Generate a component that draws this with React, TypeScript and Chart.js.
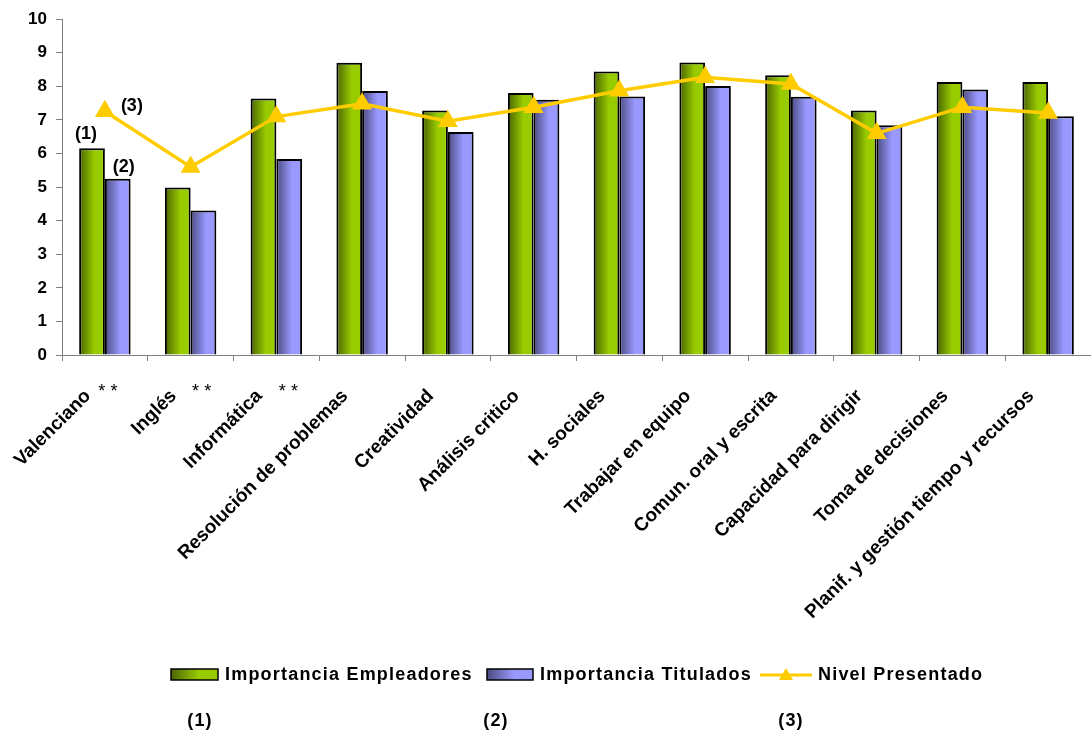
import React, { useEffect, useRef } from "react";
import { Chart, registerables } from "chart.js";

Chart.register(...registerables);

const categories = [
  "Valenciano",
  "Inglés",
  "Informática",
  "Resolución de problemas",
  "Creatividad",
  "Análisis critico",
  "H. sociales",
  "Trabajar en equipo",
  "Comun. oral y escrita",
  "Capacidad para dirigir",
  "Toma de decisiones",
  "Planif. y gestión tiempo y recursos",
];
// significance marks shown next to the first three categories
const significance = ["* *", "* *", "* *"];

const importanciaEmpleadores = [6.16, 4.99, 7.64, 8.7, 7.28, 7.8, 8.44, 8.71, 8.33, 7.28, 8.13, 8.13];
const importanciaTitulados = [5.25, 4.3, 5.84, 7.86, 6.64, 7.6, 7.7, 8.01, 7.69, 6.84, 7.91, 7.11];
const nivelPresentado = [7.26, 5.6, 7.1, 7.48, 6.96, 7.38, 7.87, 8.27, 8.07, 6.6, 7.38, 7.21];

const seriesNames = ["Importancia Empleadores", "Importancia Titulados", "Nivel Presentado"];
const yTicks = [0, 1, 2, 3, 4, 5, 6, 7, 8, 9, 10];
const noteLabels = ["(1)", "(2)", "(3)"];

const FONT = '"Liberation Sans", Arial, sans-serif';
const GREEN_DARK = "#4a6400";
const GREEN_LIGHT = "#99cc00";
const BLUE_DARK = "#4b4b82";
const BLUE_LIGHT = "#9999ff";
const GOLD = "#ffcc00";
const CAT_PCT = 0.6;

function gradientFor(ctx: any, dark: string, light: string, side: number) {
  const chart = ctx.chart;
  const area = chart.chartArea;
  const xs = chart.scales && chart.scales.x;
  if (!area || !xs || ctx.type !== "data") return light;
  const cx = xs.getPixelForValue(ctx.dataIndex);
  const cat = (area.right - area.left) / categories.length;
  const w = (cat * CAT_PCT) / 2;
  const x0 = side === 0 ? cx - w : cx;
  const g = chart.ctx.createLinearGradient(x0, 0, x0 + w, 0);
  g.addColorStop(0, dark);
  g.addColorStop(0.6, light);
  g.addColorStop(1, light);
  return g;
}

function boxGradient(c: CanvasRenderingContext2D, x: number, w: number, dark: string, light: string) {
  const g = c.createLinearGradient(x, 0, x + w, 0);
  g.addColorStop(0, dark);
  g.addColorStop(0.6, light);
  g.addColorStop(1, light);
  return g;
}

const starOffsets = [3, 11, 12];

const annotationsPlugin = {
  id: "annotations",
  afterDatasetsDraw(chart: any) {
    const c: CanvasRenderingContext2D = chart.ctx;
    const b0 = chart.getDatasetMeta(0).data[0];
    const b1 = chart.getDatasetMeta(1).data[0];
    const p0 = chart.getDatasetMeta(2).data[0];
    c.save();
    c.font = `bold 18px ${FONT}`;
    c.fillStyle = "#000";
    c.textAlign = "center";
    c.textBaseline = "middle";
    if (b0) c.fillText(noteLabels[0], b0.x - 6, b0.y - 14);
    if (b1) c.fillText(noteLabels[1], b1.x + 6, b1.y - 12);
    if (p0) c.fillText(noteLabels[2], p0.x + 27, p0.y - 5);
    c.restore();
  },
  afterDraw(chart: any) {
    const c: CanvasRenderingContext2D = chart.ctx;
    const xs = chart.scales.x;
    c.save();
    c.font = `18px ${FONT}`;
    c.fillStyle = "#000";
    c.textAlign = "center";
    c.textBaseline = "middle";
    significance.forEach((s, i) => {
      c.fillText(s, xs.getPixelForValue(i) + starOffsets[i], 392);
    });

    c.font = `bold 18px ${FONT}`;
    (c as any).letterSpacing = "1.2px";
    c.fillStyle = "#000";
    c.textBaseline = "middle";
    c.textAlign = "left";
    const ly = 675;
    c.fillStyle = boxGradient(c, 171, 47, GREEN_DARK, GREEN_LIGHT);
    c.fillRect(171, ly - 6, 47, 11);
    c.strokeStyle = "#000";
    c.lineWidth = 1.5;
    c.strokeRect(171, ly - 6, 47, 11);
    c.fillStyle = "#000";
    c.fillText(seriesNames[0], 225, ly);
    c.fillStyle = boxGradient(c, 487, 46, BLUE_DARK, BLUE_LIGHT);
    c.fillRect(487, ly - 6, 46, 11);
    c.strokeRect(487, ly - 6, 46, 11);
    c.fillStyle = "#000";
    c.fillText(seriesNames[1], 540, ly);
    c.strokeStyle = GOLD;
    c.lineWidth = 3;
    c.beginPath();
    c.moveTo(760, ly);
    c.lineTo(812, ly);
    c.stroke();
    c.fillStyle = GOLD;
    c.beginPath();
    c.moveTo(786, ly - 7);
    c.lineTo(793, ly + 5);
    c.lineTo(779, ly + 5);
    c.closePath();
    c.fill();
    c.fillStyle = "#000";
    c.fillText(seriesNames[2], 818, ly);
    c.textAlign = "center";
    c.fillText(noteLabels[0], 200, 721);
    c.fillText(noteLabels[1], 496, 721);
    c.fillText(noteLabels[2], 791, 721);
    c.restore();
  },
};

export default function App() {
  const ref = useRef<HTMLCanvasElement | null>(null);

  useEffect(() => {
    if (!ref.current) return;
    const chart = new Chart(ref.current, {
      type: "bar",
      data: {
        labels: categories,
        datasets: [
          {
            type: "bar",
            label: seriesNames[0],
            data: importanciaEmpleadores,
            backgroundColor: (ctx: any) => gradientFor(ctx, GREEN_DARK, GREEN_LIGHT, 0),
            borderColor: "#000",
            borderWidth: 2,
            categoryPercentage: CAT_PCT,
            barPercentage: 1,
            order: 2,
          },
          {
            type: "bar",
            label: seriesNames[1],
            data: importanciaTitulados,
            backgroundColor: (ctx: any) => gradientFor(ctx, BLUE_DARK, BLUE_LIGHT, 1),
            borderColor: "#000",
            borderWidth: 2,
            categoryPercentage: CAT_PCT,
            barPercentage: 1,
            order: 2,
          },
          {
            type: "line",
            label: seriesNames[2],
            data: nivelPresentado,
            borderColor: GOLD,
            backgroundColor: GOLD,
            borderWidth: 3.5,
            pointStyle: "triangle",
            pointRadius: 8,
            pointBackgroundColor: GOLD,
            pointBorderColor: GOLD,
            tension: 0,
            order: 0,
          } as any,
        ],
      },
      options: {
        animation: false,
        responsive: false,
        maintainAspectRatio: false,
        layout: { autoPadding: false, padding: { top: 17, right: -3, left: 0, bottom: 0 } },
        plugins: {
          legend: { display: false },
          tooltip: { enabled: false },
        },
        scales: {
          x: {
            offset: true,
            border: { display: true, color: "#808080", width: 1 },
            grid: {
              display: true,
              offset: true,
              drawOnChartArea: false,
              drawTicks: true,
              tickLength: 6,
              color: "#808080",
            },
            ticks: {
              maxRotation: 45,
              minRotation: 45,
              autoSkip: false,
              color: "#000",
              padding: 24,
              labelOffset: -17,
              font: { family: FONT, size: 19, weight: "bold" },
            },
            afterFit: (scale: any) => {
              scale.height = 382;
              scale.paddingRight = 0;
              scale.paddingLeft = 0;
            },
          },
          y: {
            min: 0,
            max: 10,
            border: { display: true, color: "#808080", width: 1 },
            grid: {
              display: true,
              drawOnChartArea: false,
              drawTicks: true,
              tickLength: 6,
              color: "#808080",
            },
            afterBuildTicks: (scale: any) => {
              scale.ticks = yTicks.map((v) => ({ value: v }));
            },
            ticks: {
              color: "#000",
              padding: 9,
              font: { family: FONT, size: 17, weight: "bold" },
            },
            afterFit: (scale: any) => {
              scale.width = 62;
            },
          },
        },
      },
      plugins: [annotationsPlugin],
    });
    return () => chart.destroy();
  }, []);

  return (
    <div style={{ position: "fixed", left: 0, top: 0, width: 1091, height: 737, background: "#fff" }}>
      <canvas ref={ref} width={1091} height={737} style={{ width: 1091, height: 737 }} />
    </div>
  );
}
